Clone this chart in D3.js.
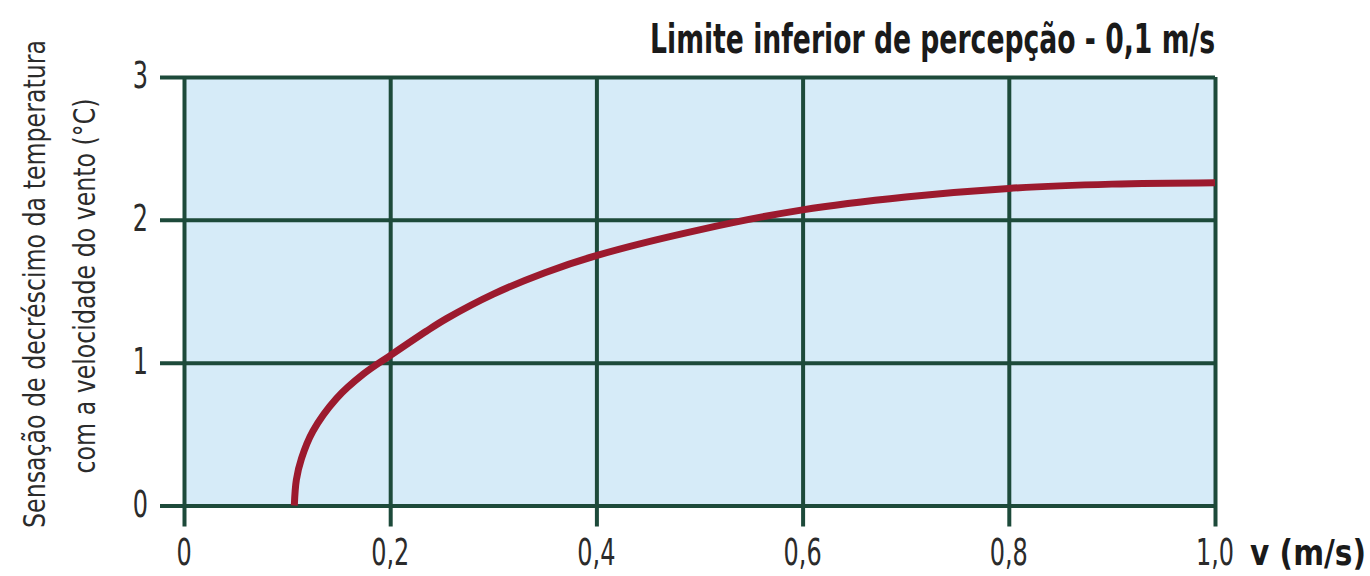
<!DOCTYPE html>
<html>
<head>
<meta charset="utf-8">
<script src="https://cdn.jsdelivr.net/npm/d3@7"></script>
<style>
  body { margin: 0; background: #fff; }
  text { font-family: "DejaVu Sans Condensed", "DejaVu Sans", sans-serif; }
</style>
</head>
<body>
<div id="chart"></div>
<script>
// values
let speed = [0.107, 0.109, 0.114, 0.125, 0.148, 0.174, 0.2, 0.235, 0.255, 0.3, 0.35, 0.4, 0.5, 0.6, 0.7, 0.8, 0.9, 1.0]
let drop = [0, 0.18, 0.33, 0.52, 0.75, 0.92, 1.05, 1.22, 1.31, 1.48, 1.63, 1.75, 1.93, 2.07, 2.16, 2.22, 2.25, 2.26]
let xTicks = [0, 0.2, 0.4, 0.6, 0.8, 1.0]
let xTickLabels = ['0', '0,2', '0,4', '0,6', '0,8', '1,0']
let yTicks = [0, 1, 2, 3]
let title = 'Limite inferior de percepção - 0,1 m/s'
let yTitle = ['Sensação de decréscimo da temperatura', 'com a velocidade do vento (°C)']
let xTitle = 'v (m/s)'

let width = 1370, height = 576
let margin = {top: 77, right: 155, bottom: 70.5, left: 184}
let gridColor = '#1d4a3a'
let textColor = '#2b2b2b'

let svg = d3.select('#chart').append('svg')
    .attr('width', width).attr('height', height)

let scX = d3.scaleLinear().domain([0, 1]).range([margin.left, width - margin.right])
let scY = d3.scaleLinear().domain([0, 3]).range([height - margin.bottom, margin.top])

// squeeze a text so it takes the wanted width (condensed look)
function fit(sel, w, pre) {
    sel.each(function() {
        let natural = this.getComputedTextLength()
        d3.select(this).attr('transform', `${pre} scale(${w / natural},1)`)
    })
}

// plot background
svg.append('rect')
    .attr('x', scX(0)).attr('y', scY(3))
    .attr('width', scX(1) - scX(0)).attr('height', scY(0) - scY(3))
    .attr('fill', '#d6ebf8')

// grid lines, with ticks sticking out
let yAxis = d3.axisLeft(scY).tickValues(yTicks).tickSize(-(scX(1) - scX(0))).tickSizeOuter(0).tickFormat('')
let gy = svg.append('g').attr('transform', `translate(${scX(0)},0)`).call(yAxis)
gy.select('.domain').remove()
gy.selectAll('line').attr('x1', -24).attr('stroke', gridColor).attr('stroke-width', 4)

let xAxis = d3.axisBottom(scX).tickValues(xTicks).tickSize(-(scY(0) - scY(3))).tickSizeOuter(0).tickFormat('')
let gx = svg.append('g').attr('transform', `translate(0,${scY(0)})`).call(xAxis)
gx.select('.domain').remove()
gx.selectAll('line').attr('y1', 21).attr('stroke', gridColor).attr('stroke-width', 4)

// tick labels
svg.append('g').selectAll('text')
    .data(yTicks).enter().append('text')
    .attr('transform', d => `translate(148,${scY(d) + 11}) scale(0.72,1)`)
    .attr('text-anchor', 'end')
    .attr('font-size', 37).attr('fill', textColor)
    .text(d => d)

svg.append('g').selectAll('text')
    .data(xTicks).enter().append('text')
    .attr('transform', d => `translate(${scX(d)},565) scale(0.72,1)`)
    .attr('text-anchor', 'middle')
    .attr('font-size', 37).attr('fill', textColor)
    .text((d, i) => xTickLabels[i])

// the curve
let makeLine = d3.line()
    .x((d, i) => scX(speed[i]))
    .y(d => scY(d))
    .curve(d3.curveCatmullRom.alpha(0.5))
svg.append('path')
    .attr('d', makeLine(drop))
    .attr('fill', 'none')
    .attr('stroke', '#9c1a2e')
    .attr('stroke-width', 7)

// titles
svg.append('text')
    .attr('text-anchor', 'end')
    .attr('font-size', 40).attr('font-weight', 'bold').attr('fill', '#1a1a1a')
    .text(title)
    .call(fit, 565, `translate(${scX(1)},53)`)

svg.append('text')
    .attr('font-size', 36).attr('font-weight', 'bold').attr('fill', '#1a1a1a')
    .text(xTitle)
    .call(fit, 116, 'translate(1250,565)')

yTitle.forEach((line, i) => {
    svg.append('text')
        .attr('text-anchor', 'middle')
        .attr('font-size', 31).attr('fill', textColor)
        .text(line)
        .call(fit, i == 0 ? 488 : 375, `translate(${i == 0 ? 45 : 95},${i == 0 ? 284 : 286}) rotate(-90)`)
})
</script>
</body>
</html>
